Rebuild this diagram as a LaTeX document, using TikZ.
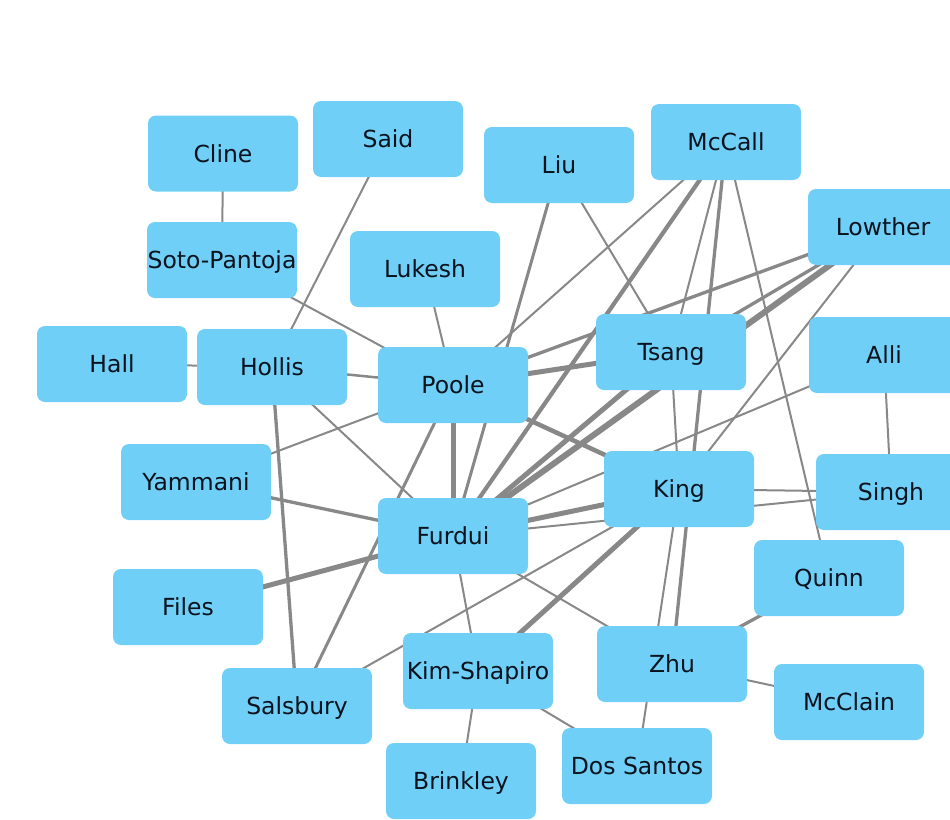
\documentclass[tikz,border=0pt]{standalone}
\usepackage{fontspec}
\setmainfont{DejaVu Sans}
\usetikzlibrary{backgrounds}
\definecolor{nodeblue}{RGB}{111,207,246}
\definecolor{edgegray}{RGB}{136,136,136}
\definecolor{labelink}{RGB}{10,18,30}
\tikzset{
  person/.style={rectangle, rounded corners=8pt, fill=nodeblue, draw=none,
    minimum width=150pt, minimum height=76pt, inner sep=0pt,
    text=labelink, font=\fontsize{23.5}{27}\selectfont,
    text height=17pt, text depth=0pt},
  tie/.style={draw=edgegray, line width=2pt},
  tiem/.style={draw=edgegray, line width=3.3pt},
  tiek/.style={draw=edgegray, line width=5pt},
  tiex/.style={draw=edgegray, line width=6pt}
}
\begin{document}
\begin{tikzpicture}[x=1pt,y=-1pt]
\useasboundingbox (0,0) rectangle (950,819);
\clip (0,0) rectangle (950,819);
% nodes
\node[person] (cline)     at (223,153.5) {Cline};
\node[person] (said)      at (388,139)   {Said};
\node[person] (liu)       at (559,165)   {Liu};
\node[person] (mccall)    at (726,142)   {McCall};
\node[person] (lowther)   at (883,227)   {Lowther};
\node[person] (soto)      at (222,260)   {Soto-Pantoja};
\node[person] (lukesh)    at (425,269)   {Lukesh};
\node[person] (hall)      at (112,364)   {Hall};
\node[person] (hollis)    at (272,367)   {Hollis};
\node[person] (poole)     at (453,385)   {Poole};
\node[person] (tsang)     at (671,352)   {Tsang};
\node[person] (alli)      at (884,355)   {Alli};
\node[person] (yammani)   at (196,482)   {Yammani};
\node[person] (king)      at (679,489)   {King};
\node[person] (singh)     at (891,492)   {Singh};
\node[person] (furdui)    at (453,536)   {Furdui};
\node[person] (files)     at (188,607)   {Files};
\node[person] (quinn)     at (829,578)   {Quinn};
\node[person] (kim)       at (478,671)   {Kim-Shapiro};
\node[person] (zhu)       at (672,664)   {Zhu};
\node[person] (mcclain)   at (849,702)   {McClain};
\node[person] (salsbury)  at (297,706)   {Salsbury};
\node[person] (brinkley)  at (461,781)   {Brinkley};
\node[person] (dossantos) at (637,766)   {Dos Santos};
% edges
\begin{scope}[on background layer]
\draw[tie]  (cline.center) -- (soto.center);
\draw[tie]  (said.center) -- (hollis.center);
\draw[tie]  (soto.center) -- (poole.center);
\draw[tie]  (lukesh.center) -- (poole.center);
\draw[tie]  (hall.center) -- (hollis.center);
\draw[tie, line width=2.5pt] (hollis.center) -- (poole.center);
\draw[tie]  (hollis.center) -- (furdui.center);
\draw[tie]  (yammani.center) -- (poole.center);
\draw[tiem] (hollis.center) -- (salsbury.center);
\draw[tiem] (yammani.center) -- (furdui.center);
\draw[tie, line width=3pt] (salsbury.center) -- (poole.center);
\draw[tiek] (files.center) -- (furdui.center);
\draw[tie]  (salsbury.center) -- (king.center);
\draw[tie]  (furdui.center) -- (kim.center);
\draw[tie]  (kim.center) -- (brinkley.center);
\draw[tie]  (kim.center) -- (dossantos.center);
\draw[tie]  (zhu.center) -- (mcclain.center);
\draw[tiem] (zhu.center) -- (quinn.center);
\draw[tie]  (furdui.center) -- (zhu.center);
\draw[tie]  (king.center) -- (dossantos.center);
\draw[tiem] (mccall.center) -- (zhu.center);
\draw[tie]  (tsang.center) -- (king.center);
\draw[tie]  (liu.center) -- (tsang.center);
\draw[tie, line width=3pt] (liu.center) -- (furdui.center);
\draw[tie]  (mccall.center) -- (poole.center);
\draw[tie]  (mccall.center) -- (tsang.center);
\draw[tie, line width=4.2pt] (mccall.center) -- (furdui.center);
\draw[tie]  (mccall.center) -- (quinn.center);
\draw[tiem] (lowther.center) -- (poole.center);
\draw[tiem] (lowther.center) -- (tsang.center);
\draw[tiex] (lowther.center) -- (furdui.center);
\draw[tie]  (lowther.center) -- (king.center);
\draw[tie]  (alli.center) -- (furdui.center);
\draw[tie]  (alli.center) -- (singh.center);
\draw[tie]  (king.center) -- (singh.center);
\draw[tie]  (furdui.center) -- (singh.center);
\draw[tiek] (poole.center) -- (furdui.center);
\draw[tiek] (poole.center) -- (tsang.center);
\draw[tiek] (tsang.center) -- (furdui.center);
\draw[tiek] (furdui.center) -- (king.center);
\draw[tiek] (kim.center) -- (king.center);
\draw[tie, line width=4.5pt] (poole.center) -- (king.center);
\end{scope}
\end{tikzpicture}
\end{document}
